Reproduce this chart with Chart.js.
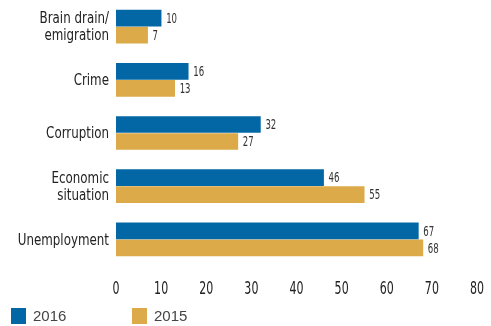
<!DOCTYPE html>
<html lang="en">
<head>
  <meta charset="UTF-8">
  <title>Biggest problems facing the country</title>
  <script src="https://cdn.jsdelivr.net/npm/chart.js"></script>
  <style>
    body {
      margin: 0;
      background: #fff;
    }
    .wrap {
      position: relative;
      width: 491px;
      height: 326px;
    }
    .legend {
      position: absolute;
      top: 308px;
      left: 0;
      font-family: 'Liberation Sans', Arial, sans-serif;
      font-size: 15px;
      color: #444;
    }
    .legend span {
      position: absolute;
      white-space: nowrap;
      line-height: 16px;
    }
    .legend i {
      position: absolute;
      width: 15px;
      height: 16px;
    }
  </style>
</head>
<body>
<div class="wrap">
  <canvas id="problemsChart" width="491" height="326"></canvas>
  <div class="legend">
    <i style="left:11px;background:#0467a5"></i><span style="left:33px">2016</span>
    <i style="left:132px;background:#dcaa48"></i><span style="left:154px">2015</span>
  </div>
</div>

<script>
  const categories = [['Brain drain/', 'emigration'], 'Crime', 'Corruption', ['Economic', 'situation'], 'Unemployment'];
  const values2016 = [10, 16, 32, 46, 67];
  const values2015 = [7, 13, 27, 55, 68];
  const xTicks = [0, 10, 20, 30, 40, 50, 60, 70, 80];

  const condensed = "'DejaVu Sans Condensed', 'DejaVu Sans', sans-serif";

  // squeezed text, since no narrow gothic face is around
  function narrowText(ctx, text, x, y, sx) {
    ctx.save();
    ctx.translate(x, y);
    ctx.scale(sx, 1);
    ctx.fillText(text, 0, 0);
    ctx.restore();
  }

  // category names, axis numbers and bar values
  const textLayer = {
    id: 'textLayer',
    afterDraw(chart) {
      const ctx = chart.ctx;
      const xs = chart.scales.x;
      const ys = chart.scales.y;
      ctx.save();
      ctx.fillStyle = '#222';
      ctx.textBaseline = 'middle';

      ctx.font = '16.5px ' + condensed;
      ctx.textAlign = 'right';
      categories.forEach((label, i) => {
        const lines = Array.isArray(label) ? label : [label];
        const cy = ys.getPixelForTick(i);
        lines.forEach((line, k) => {
          const y = cy + (k - (lines.length - 1) / 2) * 17 + 1;
          narrowText(ctx, line, ys.right - 7, y, 0.8);
        });
      });

      ctx.font = '18px ' + condensed;
      ctx.textAlign = 'center';
      xTicks.forEach(v => {
        narrowText(ctx, String(v), xs.getPixelForValue(v), 289, 0.68);
      });

      ctx.font = '14px ' + condensed;
      ctx.textAlign = 'left';
      ctx.fillStyle = '#333';
      chart.data.datasets.forEach((ds, i) => {
        chart.getDatasetMeta(i).data.forEach((bar, j) => {
          narrowText(ctx, String(ds.data[j]), bar.x + 5, bar.y + 1, 0.68);
        });
      });
      ctx.restore();
    }
  };

  const ctx = document.getElementById('problemsChart').getContext('2d');
  new Chart(ctx, {
    type: 'bar',
    data: {
      labels: categories,
      datasets: [
        {
          label: '2016',
          data: values2016,
          backgroundColor: '#0467a5',
          barThickness: 17,
          maxBarThickness: 16
        },
        {
          label: '2015',
          data: values2015,
          backgroundColor: '#dcaa48',
          barThickness: 17,
          maxBarThickness: 16
        }
      ]
    },
    options: {
      indexAxis: 'y',
      responsive: false,
      animation: false,
      layout: {
        padding: { top: 0, right: 14, left: 0, bottom: 0 }
      },
      plugins: {
        legend: { display: false },
        tooltip: { enabled: false }
      },
      scales: {
        x: {
          min: xTicks[0],
          max: xTicks[xTicks.length - 1],
          afterBuildTicks: (scale) => {
            scale.ticks = xTicks.map(v => ({ value: v }));
          },
          afterFit: (scale) => { scale.height = 60; },
          grid: { display: false, drawTicks: false },
          border: { display: false },
          ticks: { display: false }
        },
        y: {
          afterFit: (scale) => { scale.width = 116; },
          grid: { display: false, drawTicks: false },
          border: { display: false },
          ticks: { display: false }
        }
      }
    },
    plugins: [textLayer]
  });
</script>
</body>
</html>
